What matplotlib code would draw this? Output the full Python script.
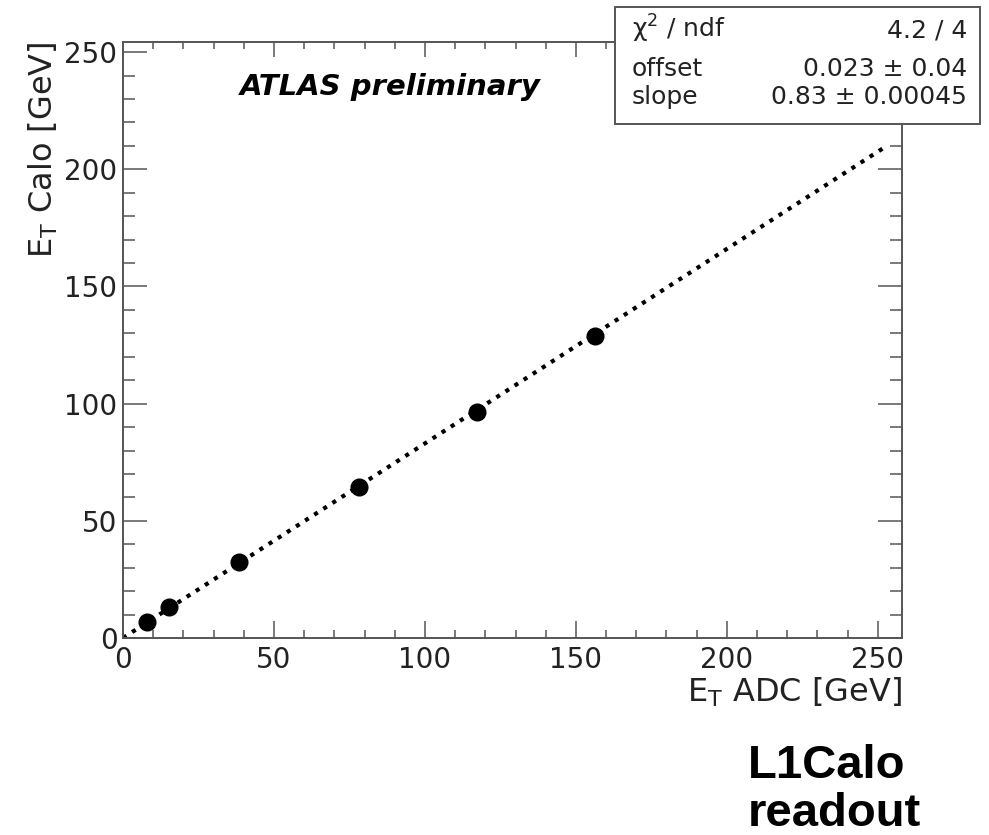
import matplotlib
matplotlib.use('Agg')
import matplotlib.pyplot as plt
from matplotlib.patches import Rectangle
from matplotlib.ticker import MultipleLocator

plt.rcParams['font.family'] = ['DejaVu Sans']
plt.rcParams['mathtext.fontset'] = 'dejavusans'

# data
et_adc = [7.8, 15.3, 38.5, 78.2, 117.1, 156.3]
et_calo = [6.8, 13.2, 32.3, 64.5, 96.6, 129.0]

# fit result shown in the stats box
fit_offset = 0.023
fit_slope = 0.83
fit_range = [0.0, 252.5]

stat_names = ['χ$^{2}$ / ndf', 'offset', 'slope']
stat_values = ['4.2 / 4', '0.023 ± 0.04', '0.83 ± 0.00045']

frame_col = '#555555'
text_col = '#222222'

fig = plt.figure(figsize=(9.89, 8.35), dpi=100)
ax = fig.add_axes([123 / 989, 1 - 638 / 835, (902 - 123) / 989, (638 - 42) / 835])

fit_y = [fit_offset + fit_slope * x for x in fit_range]
ax.plot(fit_range, fit_y, color='black', lw=3.0, linestyle=(0, (1.0, 1.6)), zorder=2)
ax.plot(et_adc, et_calo, 'o', color='black', markersize=12, zorder=3)

ax.set_xlim(0, 258)
ax.set_ylim(0, 254.3)

ax.xaxis.set_major_locator(MultipleLocator(50))
ax.xaxis.set_minor_locator(MultipleLocator(10))
ax.yaxis.set_major_locator(MultipleLocator(50))
ax.yaxis.set_minor_locator(MultipleLocator(10))

for s in ax.spines.values():
    s.set_color(frame_col)
    s.set_linewidth(1.4)

ax.tick_params(axis='x', which='major', direction='in', length=12, width=1.1,
               color=frame_col, labelsize=20, labelcolor=text_col, pad=6,
               bottom=True, top=False)
ax.tick_params(axis='x', which='minor', direction='in', length=6, width=1.1,
               color=frame_col, bottom=True, top=False)
ax.tick_params(axis='y', which='major', direction='in', length=17, width=1.1,
               color=frame_col, labelsize=20, labelcolor=text_col, pad=4,
               left=True, right=True)
ax.tick_params(axis='y', which='minor', direction='in', length=8.5, width=1.1,
               color=frame_col, left=True, right=True)

# shorter ticks on the top edge, ROOT style
top = ax.secondary_xaxis('top')
top.xaxis.set_major_locator(MultipleLocator(50))
top.xaxis.set_minor_locator(MultipleLocator(10))
top.tick_params(which='major', direction='in', length=11, width=1.1, color=frame_col, labeltop=False)
top.tick_params(which='minor', direction='in', length=5, width=1.1, color=frame_col)
top.spines['top'].set_visible(False)

ax.set_xlabel('E$_{\\mathrm{T}}$ ADC [GeV]', fontsize=23, color=text_col, ha='right', x=1.0, labelpad=1)
ax.set_ylabel('E$_{\\mathrm{T}}$ Calo [GeV]', fontsize=23, color=text_col, ha='right', y=1.0, labelpad=3)

ax.text(0.15, 0.925, 'ATLAS preliminary', transform=ax.transAxes, fontsize=21,
        fontweight='bold', fontstyle='italic', color='black', va='center', ha='left')

# stats box
box_l, box_r, box_t, box_b = 615, 980, 7, 124
fig.patches.append(Rectangle((box_l / 989, 1 - box_b / 835), (box_r - box_l) / 989,
                             (box_b - box_t) / 835, transform=fig.transFigure,
                             facecolor='white', edgecolor=frame_col, lw=1.4, zorder=5))
baselines = [38, 76, 104]
for name, val, yb in zip(stat_names, stat_values, baselines):
    fig.text(632 / 989, 1 - yb / 835, name, fontsize=18, color=text_col,
             ha='left', va='baseline', zorder=6)
    fig.text(967 / 989, 1 - yb / 835, val, fontsize=18, color=text_col,
             ha='right', va='baseline', zorder=6)

fig.text(748 / 989, 1 - 778 / 835, 'L1Calo', fontsize=34, fontweight='bold',
         color='black', ha='left', va='baseline', family='Liberation Sans')
fig.text(748 / 989, 1 - 826 / 835, 'readout', fontsize=34, fontweight='bold',
         color='black', ha='left', va='baseline', family='Liberation Sans')

fig.savefig('out.png', dpi=100)
